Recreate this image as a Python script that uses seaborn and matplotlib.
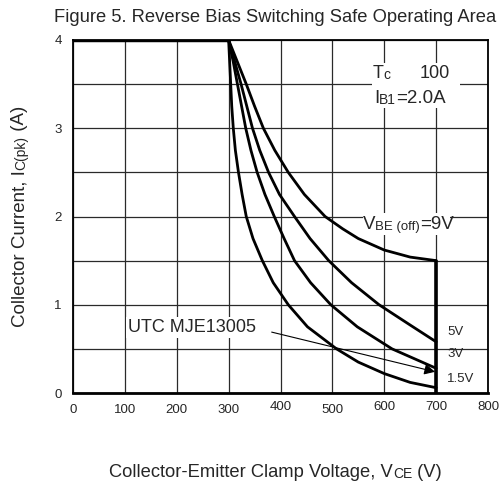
import matplotlib
matplotlib.use("Agg")
import numpy as np
import pandas as pd
import matplotlib.pyplot as plt
import matplotlib.transforms as mtransforms
from matplotlib.patches import Rectangle
import seaborn as sns

# envelope: flat 4 A limit up to 300 V, clamp at 700 V
flat_x = [0, 300]
flat_y = [4.0, 4.0]
clamp_x = [700, 700]
clamp_y = [0.0, 1.5]

# RBSOA curves
v9_x = [300, 317, 334, 350, 367, 389, 415, 446, 486, 520, 550, 600, 650, 700]
v9_y = [4.0, 3.75, 3.5, 3.25, 3.0, 2.75, 2.5, 2.25, 2.0, 1.86, 1.75, 1.62, 1.54, 1.5]
v5_x = [300, 312, 324, 335, 346, 360, 377, 398, 427, 457, 493, 537, 590, 650, 700]
v5_y = [4.0, 3.75, 3.5, 3.25, 3.0, 2.75, 2.5, 2.25, 2.0, 1.75, 1.5, 1.25, 1.0, 0.77, 0.58]
v3_x = [300, 309, 317, 325, 333, 343, 355, 370, 388, 407, 427, 458, 497, 548, 615, 700]
v3_y = [4.0, 3.75, 3.5, 3.25, 3.0, 2.75, 2.5, 2.25, 2.0, 1.75, 1.5, 1.25, 1.0, 0.75, 0.5, 0.28]
v15_x = [300, 302, 304, 306, 309, 313, 319, 326, 334, 347, 365, 386, 415, 452, 508, 550, 600, 650, 700]
v15_y = [4.0, 3.75, 3.5, 3.25, 3.0, 2.75, 2.5, 2.25, 2.0, 1.75, 1.5, 1.25, 1.0, 0.75, 0.5, 0.35, 0.22, 0.12, 0.06]

x_ticks = [0, 100, 200, 300, 400, 500, 600, 700, 800]
y_ticks = [0, 1, 2, 3, 4]
raised_xticks = [400, 600, 700, 800]

curves = pd.concat([
    pd.DataFrame({"vce": v9_x, "ic": v9_y, "vbe": "9V"}),
    pd.DataFrame({"vce": v5_x, "ic": v5_y, "vbe": "5V"}),
    pd.DataFrame({"vce": v3_x, "ic": v3_y, "vbe": "3V"}),
    pd.DataFrame({"vce": v15_x, "ic": v15_y, "vbe": "1.5V"}),
], ignore_index=True)

sns.set_style("white")
plt.rcParams["font.family"] = ["Liberation Sans", "DejaVu Sans"]

W, H = 503, 483
fig = plt.figure(figsize=(W / 100, H / 100), dpi=100)
ax = fig.add_axes([73 / W, 1 - 393 / H, 415 / W, 353 / H])


def rich(target, x, y, parts, transform, rotation=0, zorder=5):
    # chain pieces of different size along one baseline
    prev = None
    for text, size in parts:
        if prev is None:
            if rotation:
                prev = target.text(x, y, text, fontsize=size, transform=transform,
                                   rotation=90, ha="right", va="bottom", zorder=zorder)
            else:
                prev = target.text(x, y, text, fontsize=size, transform=transform,
                                   ha="left", va="baseline", zorder=zorder)
        elif rotation:
            prev = ax.annotate(text, xy=(1, 1), xycoords=prev, fontsize=size, annotation_clip=False,
                               rotation=90, ha="right", va="bottom", zorder=zorder)
        else:
            prev = ax.annotate(text, xy=(1, 0), xycoords=prev, fontsize=size, annotation_clip=False,
                               ha="left", va="bottom", zorder=zorder)
    return prev


sns.lineplot(data=curves, x="vce", y="ic", units="vbe", estimator=None, sort=False,
             color="black", lw=2.0, ax=ax, zorder=4)
sns.lineplot(x=flat_x, y=flat_y, estimator=None, sort=False, color="black", lw=3.2, ax=ax, zorder=4)
sns.lineplot(x=clamp_x, y=clamp_y, estimator=None, sort=False, color="black", lw=2.6, ax=ax, zorder=4)
for ln in ax.get_lines():
    ln.set_solid_joinstyle("round")

ax.set_xlim(0, 800)
ax.set_ylim(0, 4)
ax.set_xticks(x_ticks)
ax.set_yticks(y_ticks)
ax.set_yticks(np.arange(0, 4.01, 0.5), minor=True)
ax.grid(which="both", color="#2a2a2a", lw=0.9, zorder=1)
ax.set_axisbelow(True)
ax.tick_params(which="both", length=0, labelsize=9.5)
ax.tick_params(axis="x", pad=8)
ax.tick_params(axis="y", pad=8)
ax.set_xlabel("")
ax.set_ylabel("")
for side in ["left", "right", "top"]:
    ax.spines[side].set_linewidth(1.3)
    ax.spines[side].set_color("black")
ax.spines["bottom"].set_linewidth(2.0)
ax.spines["bottom"].set_color("black")

for lab, val in zip(ax.get_xticklabels(), x_ticks):
    if val in raised_xticks:
        lab.set_transform(lab.get_transform() + mtransforms.ScaledTranslation(0, 3 / 100, fig.dpi_scale_trans))

# white boxes behind the condition labels
ax.add_patch(Rectangle((576, 3.23), 170, 0.51, facecolor="white", edgecolor="none", zorder=2, clip_on=False))
ax.add_patch(Rectangle((559, 1.79), 168, 0.25, facecolor="white", edgecolor="none", zorder=2))

rich(ax, 578, 3.57, [("T", 13), ("c", 10)], ax.transData)
ax.text(669, 3.57, "100", fontsize=13, ha="left", va="baseline", zorder=5)
rich(ax, 580, 3.29, [("I", 13.5), ("B1", 10), ("=2.0A", 13.5)], ax.transData)
rich(ax, 559, 1.86, [("V", 13.5), ("BE (off)", 9.5), ("=9V", 13.5)], ax.transData)

ax.text(721, 0.66, "5V", fontsize=9.5, ha="left", va="baseline", zorder=5)
ax.text(721, 0.41, "3V", fontsize=9.5, ha="left", va="baseline", zorder=5)
ax.text(721, 0.125, "1.5V", fontsize=9.5, ha="left", va="baseline", zorder=5)

ax.text(106, 0.69, "UTC MJE13005", fontsize=13, ha="left", va="baseline", zorder=5,
        bbox=dict(facecolor="white", edgecolor="none", pad=1.5))
ax.annotate("", xy=(698, 0.24), xytext=(383, 0.69),
            arrowprops=dict(arrowstyle="-|>", color="black", lw=0.8, mutation_scale=16,
                            shrinkA=0, shrinkB=0), zorder=5)

fig.text(275 / W, 1 - 17 / H, "Figure 5. Reverse Bias Switching Safe Operating Area",
         fontsize=13.2, ha="center", va="center")
rich(fig, 109 / W, 1 - 477 / H, [("Collector-Emitter Clamp Voltage, V", 13.2), ("CE", 10), (" (V)", 13.2)],
     fig.transFigure)
rich(fig, 28.5 / W, 1 - 327 / H, [("Collector Current, I", 13.5), ("C(pk)", 10), (" (A)", 13.5)],
     fig.transFigure, rotation=90)

fig.savefig("out.png", dpi=100)
